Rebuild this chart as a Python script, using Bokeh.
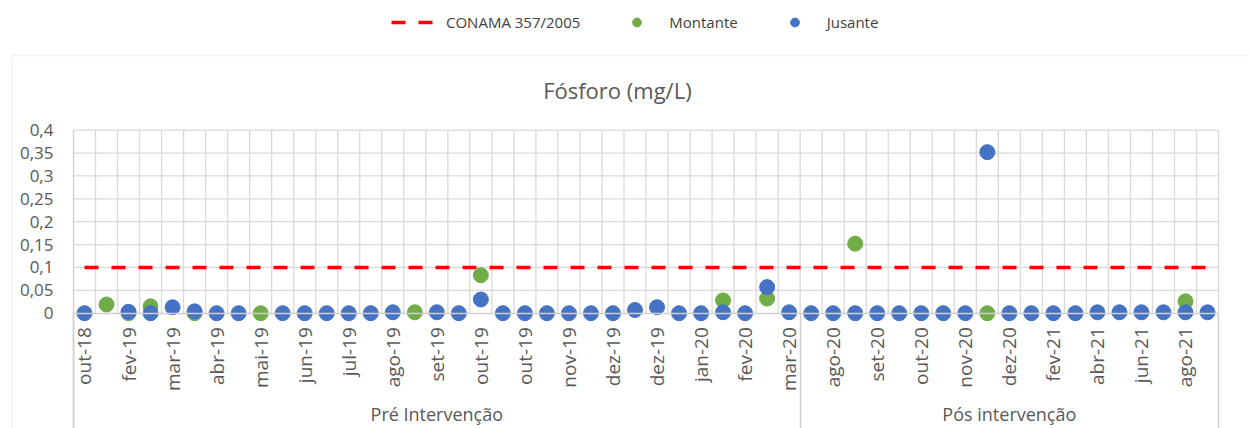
import numpy as np
from bokeh.plotting import figure
from bokeh.models import (Range1d, FixedTicker, Label, BoxAnnotation, LinearAxis,
                          Legend, LegendItem, ColumnDataSource)
from bokeh.embed import file_html
from bokeh.resources import INLINE

# ---------------- data ----------------
categories = [
    "out-18", "jan-19", "fev-19", "fev-19", "mar-19", "mar-19", "abr-19", "abr-19",
    "mai-19", "mai-19", "jun-19", "jun-19", "jul-19", "jul-19", "ago-19", "ago-19",
    "set-19", "set-19", "out-19", "out-19", "out-19", "nov-19", "nov-19", "nov-19",
    "dez-19", "dez-19", "dez-19", "jan-20", "jan-20", "jan-20", "fev-20", "fev-20",
    "mar-20", "jul-20", "ago-20", "ago-20", "set-20", "set-20", "out-20", "out-20",
    "nov-20", "nov-20", "dez-20", "jan-21", "fev-21", "mar-21", "abr-21", "mai-21",
    "jun-21", "jul-21", "ago-21", "set-21",
]
group_names = ["Pré Intervenção", "Pós intervenção"]
group_sizes = [33, 19]

N = None
montante = [
    N, 0.019, 0.0, 0.015, N, 0.0, N, N,
    0.0, N, N, N, N, N, N, 0.002,
    N, N, 0.083, N, N, N, N, N,
    N, N, N, N, N, 0.028, N, 0.032,
    N, N, N, 0.152, N, N, N, N,
    N, 0.0, N, N, N, N, N, N,
    N, N, 0.026, N,
]
jusante = [
    0.0, N, 0.003, 0.0, 0.013, 0.004, 0.0, 0.0,
    N, 0.0, 0.0, 0.0, 0.0, 0.0, 0.002, N,
    0.002, 0.0, 0.030, 0.0, 0.0, 0.0, 0.0, 0.0,
    0.0, 0.007, 0.013, 0.0, 0.0, 0.002, 0.0, 0.057,
    0.002, 0.0, 0.0, 0.0, 0.0, 0.0, 0.0, 0.0,
    0.0, 0.352, 0.0, 0.0, 0.0, 0.0, 0.002, 0.002,
    0.002, 0.002, 0.002, 0.002,
]
conama = [0.1] * len(categories)

y_ticks = [0, 0.05, 0.1, 0.15, 0.2, 0.25, 0.3, 0.35, 0.4]
y_tick_labels = ["0", "0,05", "0,1", "0,15", "0,2", "0,25", "0,3", "0,35", "0,4"]

title_text = "Fósforo (mg/L)"
legend_labels = ["CONAMA 357/2005", "Montante", "Jusante"]

# ---------------- styling ----------------
FONT = "Open Sans"
TXT = "#595959"
GRID = "#D9D9D9"
AXIS = "#CFCFCF"
GREEN = "#70AD47"
BLUE = "#4472C4"
RED = "#FF0000"

n = len(categories)
xs = np.arange(n)
X0, X1 = -0.5, n - 0.5
Y0, Y1 = y_ticks[0], y_ticks[-1]


def nanarr(a):
    return np.array([np.nan if v is None else v for v in a], dtype=float)


src = ColumnDataSource(dict(x=xs, mont=nanarr(montante), jus=nanarr(jusante),
                            conama=np.array(conama, dtype=float)))

# the frame covers the whole chart area; the plot area lives inside it
W, H = 1249, 428
XR = (-3.8147, 52.9064)
YR = (-0.25202, 0.68350)
p = figure(width=W, height=H,
           x_range=Range1d(*XR), y_range=Range1d(*YR),
           output_backend="svg", toolbar_location=None,
           x_axis_location=None, y_axis_location=None,
           min_border_left=0, min_border_right=0,
           min_border_top=0, min_border_bottom=0)
p.outline_line_color = None
p.background_fill_color = "white"
p.border_fill_color = "white"
p.grid.visible = False

# chart border (Excel chart area)
p.add_layout(BoxAnnotation(left=-3.283, right=n + 30, top=0.5633, bottom=-2.0,
                           fill_alpha=0, line_color=GRID, line_width=2,
                           level="underlay"))

# gridlines of the plot area
vb = [i + 0.5 for i in range(n)]
p.segment(x0=vb, y0=Y0, x1=vb, y1=Y1, line_color=GRID, line_width=1.3)
p.segment(x0=X0, y0=y_ticks[1:], x1=X1, y1=y_ticks[1:], line_color=GRID,
          line_width=1.3)

# y axis
ya = LinearAxis(fixed_location=X0, bounds=(YR[0], Y1))
ya.ticker = FixedTicker(ticks=y_ticks)
ya.major_label_overrides = {t: l for t, l in zip(y_ticks, y_tick_labels)}
ya.major_tick_out = 0
ya.major_tick_in = 0
ya.minor_tick_out = 0
ya.minor_tick_in = 0
ya.axis_line_color = AXIS
ya.axis_line_width = 1.3
ya.major_label_standoff = 20
ya.major_label_text_font = FONT
ya.major_label_text_font_size = "17px"
ya.major_label_text_color = TXT
p.add_layout(ya, "left")

# x axis (every second category label, Excel style)
even = [int(i) for i in xs if i % 2 == 0]
xa = LinearAxis(fixed_location=Y0, bounds=(X0, X1))
xa.ticker = FixedTicker(ticks=even, minor_ticks=[])
xa.major_label_overrides = {i: categories[i] for i in even}
xa.major_label_orientation = np.pi / 2
xa.major_tick_out = 0
xa.major_tick_in = 0
xa.minor_tick_in = 0
xa.minor_tick_out = 0
xa.axis_line_color = AXIS
xa.axis_line_width = 1.5
xa.major_label_standoff = 14
xa.major_label_text_font = FONT
xa.major_label_text_font_size = "19px"
xa.major_label_text_color = TXT
p.add_layout(xa, "below")

# group separators of the multi-level category axis
sep = [X0]
acc = 0
for s in group_sizes:
    acc += s
    sep.append(acc - 0.5)
sa = LinearAxis(fixed_location=Y0, bounds=(X0, X1))
sa.ticker = FixedTicker(ticks=[], minor_ticks=sep)
sa.major_tick_out = 0
sa.major_tick_in = 0
sa.minor_tick_in = 0
sa.minor_tick_out = 120
sa.minor_tick_line_color = AXIS
sa.minor_tick_line_width = 1.5
sa.axis_line_color = None
sa.major_label_text_alpha = 0
p.add_layout(sa, "below")

# group level of the category axis
centers = []
start = 0
for s in group_sizes:
    centers.append(start + (s - 1) / 2)
    start += s
ga = LinearAxis(fixed_location=Y0, bounds=(X0, X1))
ga.ticker = FixedTicker(ticks=centers, minor_ticks=[])
ga.major_label_overrides = {c: g for c, g in zip(centers, group_names)}
ga.major_tick_out = 0
ga.major_tick_in = 0
ga.minor_tick_out = 0
ga.minor_tick_in = 0
ga.axis_line_color = None
ga.major_label_standoff = 89
ga.major_label_text_font = FONT
ga.major_label_text_font_size = "18px"
ga.major_label_text_color = TXT
p.add_layout(ga, "below")

# series
r_con = p.line("x", "conama", source=src, line_color=RED, line_width=3.5,
               line_dash="14 13")
r_mon = p.scatter("x", "mont", source=src, size=15, fill_color=GREEN,
                  line_color=GREEN)
r_jus = p.scatter("x", "jus", source=src, size=15, fill_color=BLUE,
                  line_color=BLUE)

# title
p.add_layout(Label(x=24.2, y=0.4868, text=title_text, text_font=FONT,
                   text_font_size="22px", text_color=TXT,
                   text_align="center", text_baseline="middle"))

# legend
legend = Legend(items=[LegendItem(label=legend_labels[0], renderers=[r_con]),
                       LegendItem(label=legend_labels[1], renderers=[r_mon]),
                       LegendItem(label=legend_labels[2], renderers=[r_jus])],
                orientation="horizontal", location=(391, 395),
                glyph_width=45, glyph_height=22, label_standoff=10, spacing=34,
                padding=0, margin=0, background_fill_alpha=0,
                border_line_color=None, label_text_font=FONT,
                label_text_font_size="15px", label_text_color="#404040")
p.add_layout(legend, "center")

open("out.html", "w").write(file_html(p, INLINE))
